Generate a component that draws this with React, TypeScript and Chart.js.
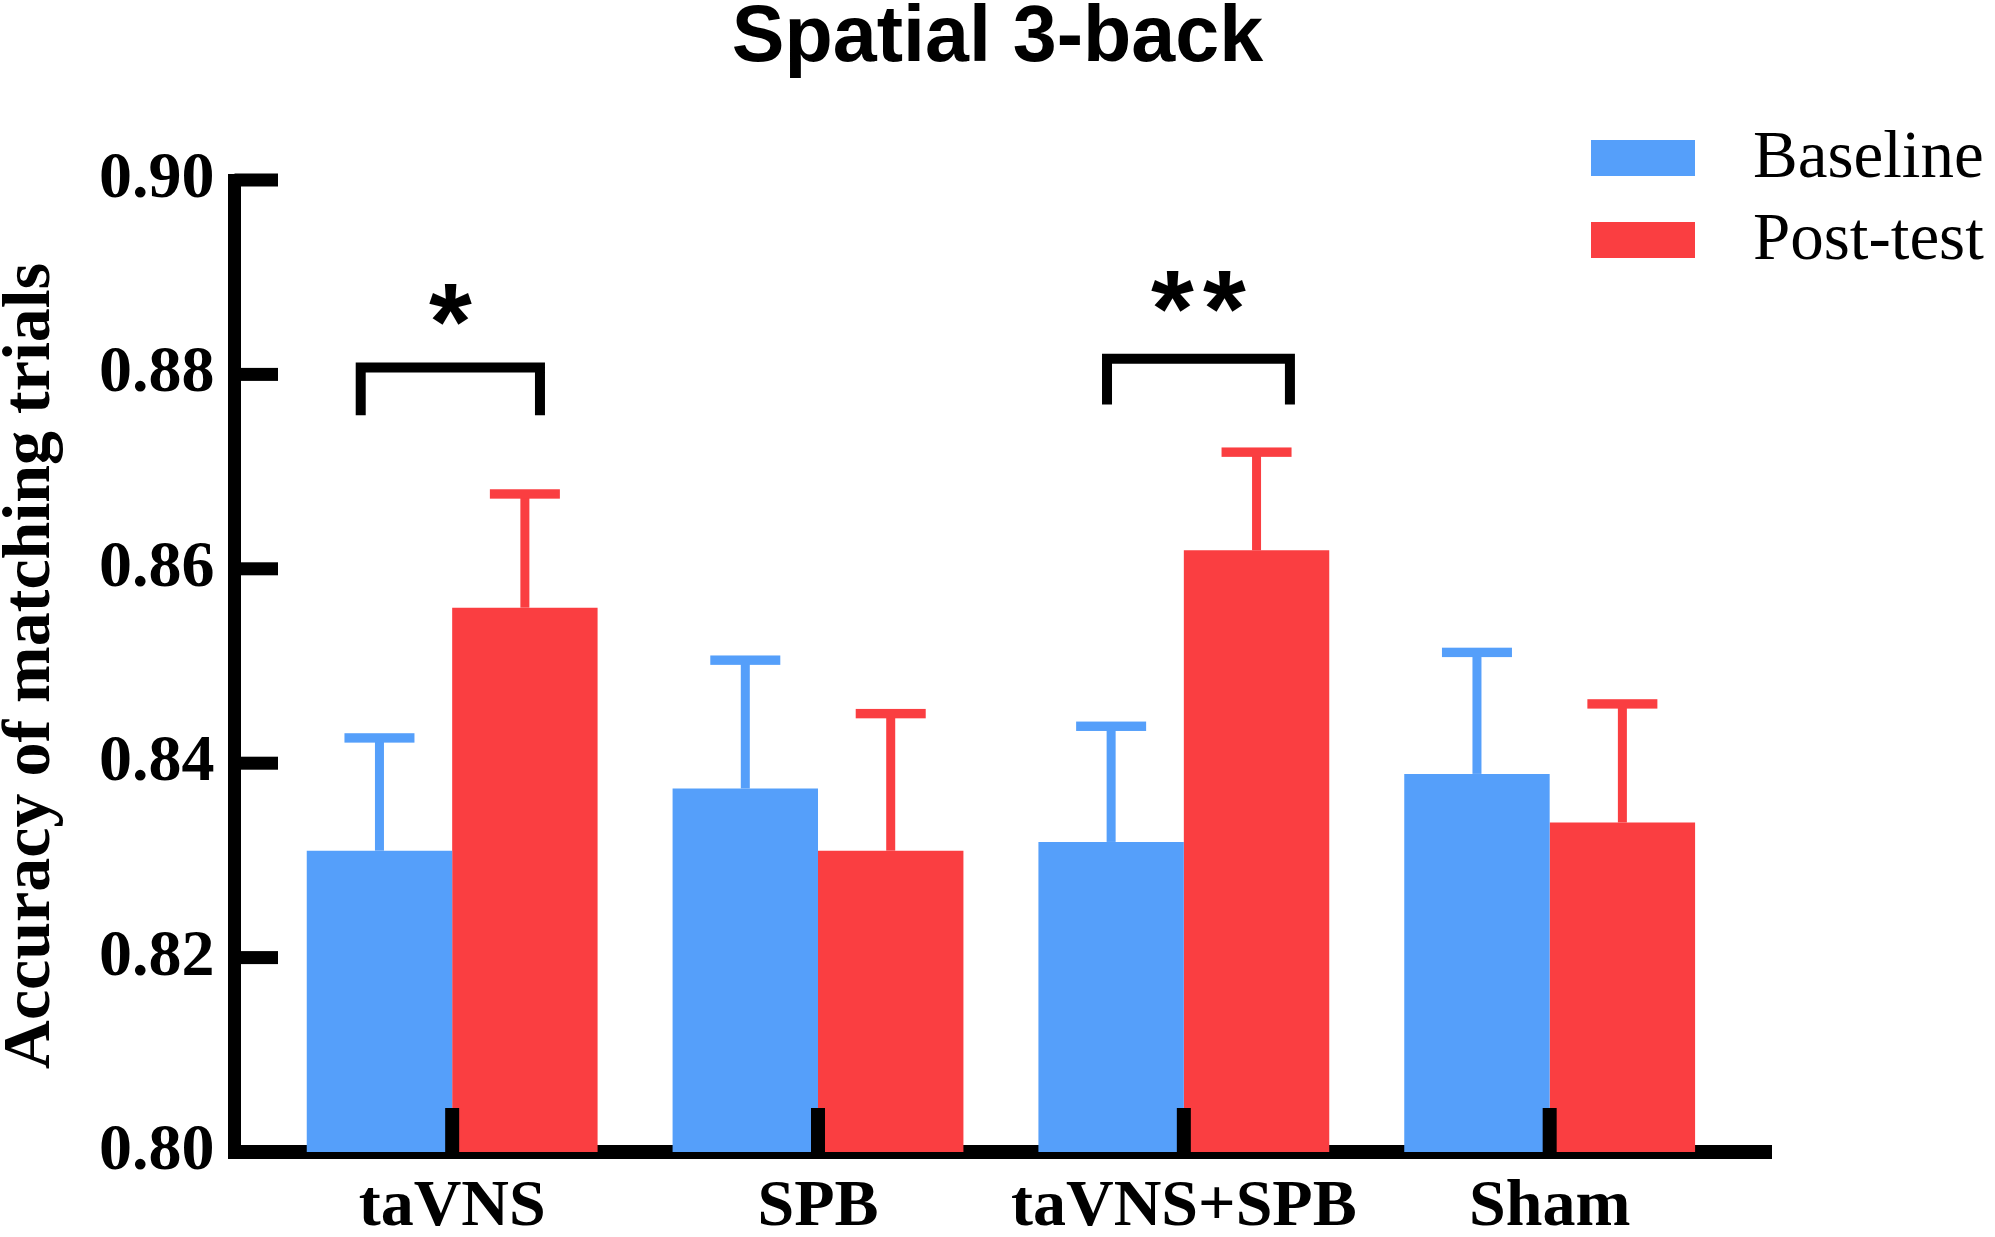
import React, { useEffect, useRef } from 'react';
import { Chart, registerables } from 'chart.js';

Chart.register(...registerables);

// ---- data ----
const categories = ['taVNS', 'SPB', 'taVNS+SPB', 'Sham'];
const seriesLabels = ['Baseline', 'Post-test'];
const seriesColors = ['#559FFA', '#FA3E41'];
const baselineMeans = [0.831, 0.8374, 0.8319, 0.8389];
const baselineErrors = [0.0116, 0.0132, 0.0119, 0.0125];
const postMeans = [0.856, 0.831, 0.8619, 0.8339];
const postErrors = [0.0117, 0.0141, 0.0101, 0.0122];
const yTickValues = [0.8, 0.82, 0.84, 0.86, 0.88, 0.9];

// significance brackets (x in category units, y in data units)
const sigLabels = ['*', '**'];
const sigStart = [-0.25, 1.79];
const sigEnd = [0.24, 2.29];
const sigTop = [0.8807, 0.8816];
const sigLeg = [0.8758, 0.8769];
const sigStarY = [0.8872, 0.8885];

const SERIF = '"Liberation Serif", "Times New Roman", serif';
const SANS = '"Liberation Sans", Arial, sans-serif';

const errorBarPlugin = {
  id: 'errorBars',
  afterDatasetsDraw(chart: any) {
    const ctx = chart.ctx;
    const yScale = chart.scales.y;
    chart.data.datasets.forEach((ds: any, d: number) => {
      const meta = chart.getDatasetMeta(d);
      meta.data.forEach((bar: any, i: number) => {
        const mean = ds.data[i].y;
        const err = ds.errors[i];
        const yTop = yScale.getPixelForValue(mean + err);
        ctx.save();
        ctx.fillStyle = ds.backgroundColor;
        ctx.fillRect(bar.x - 4.5, yTop, 9, bar.y - yTop);
        ctx.fillRect(bar.x - 35, yTop - 4.7, 70, 9.4);
        ctx.restore();
      });
    });
  },
};

const innerTicksPlugin = {
  id: 'innerTicks',
  afterDraw(chart: any) {
    const ctx = chart.ctx;
    const { left, bottom } = chart.chartArea;
    const y = chart.scales.y;
    const x = chart.scales.x;
    ctx.save();
    ctx.fillStyle = '#000';
    y.ticks.forEach((t: any) => {
      const py = y.getPixelForValue(t.value);
      ctx.fillRect(left, py - 6.5, 43.5, 13);
    });
    x.ticks.forEach((t: any) => {
      const px = x.getPixelForValue(t.value);
      ctx.fillRect(px - 7, bottom - 44, 14, 44);
    });
    ctx.restore();
  },
};

const significancePlugin = {
  id: 'significance',
  afterDraw(chart: any) {
    const ctx = chart.ctx;
    const x = chart.scales.x;
    const y = chart.scales.y;
    ctx.save();
    ctx.strokeStyle = '#000';
    ctx.fillStyle = '#000';
    ctx.lineWidth = 10;
    ctx.lineJoin = 'miter';
    ctx.lineCap = 'butt';
    sigLabels.forEach((label, k) => {
      const x1 = x.getPixelForValue(sigStart[k]);
      const x2 = x.getPixelForValue(sigEnd[k]);
      const yt = y.getPixelForValue(sigTop[k]);
      const yl = y.getPixelForValue(sigLeg[k]);
      ctx.beginPath();
      ctx.moveTo(x1, yl);
      ctx.lineTo(x1, yt);
      ctx.lineTo(x2, yt);
      ctx.lineTo(x2, yl);
      ctx.stroke();
      // stars
      ctx.font = `bold 110px ${SANS}`;
      ctx.textAlign = 'center';
      ctx.textBaseline = 'alphabetic';
      const m = ctx.measureText('*');
      const cy = y.getPixelForValue(sigStarY[k]);
      const base = cy + (m.actualBoundingBoxAscent - m.actualBoundingBoxDescent) / 2;
      const cx = (x1 + x2) / 2;
      const n = label.length;
      for (let c = 0; c < n; c++) {
        ctx.fillText(label[c], cx + (c - (n - 1) / 2) * 52, base);
      }
    });
    ctx.restore();
  },
};

const legendPlugin = {
  id: 'customLegend',
  afterDraw(chart: any) {
    const ctx = chart.ctx;
    ctx.save();
    chart.data.datasets.forEach((ds: any, d: number) => {
      const top = 140 + d * 82;
      ctx.fillStyle = ds.backgroundColor;
      ctx.fillRect(1591, top, 104, 36);
      ctx.fillStyle = '#000';
      ctx.font = `67px ${SERIF}`;
      ctx.textAlign = 'left';
      ctx.textBaseline = 'middle';
      ctx.fillText(ds.label, 1753, top + 19);
    });
    ctx.restore();
  },
};

export default function App() {
  const canvasRef = useRef<HTMLCanvasElement | null>(null);

  useEffect(() => {
    if (!canvasRef.current) return;
    const chart = new Chart(canvasRef.current, {
      type: 'bar',
      data: {
        datasets: [
          {
            label: seriesLabels[0],
            data: baselineMeans.map((v, i) => ({ x: i, y: v })),
            backgroundColor: seriesColors[0],
            borderWidth: 0,
            errors: baselineErrors,
          } as any,
          {
            label: seriesLabels[1],
            data: postMeans.map((v, i) => ({ x: i, y: v })),
            backgroundColor: seriesColors[1],
            borderWidth: 0,
            errors: postErrors,
          } as any,
        ],
      },
      options: {
        animation: false,
        responsive: false,
        devicePixelRatio: 1,
        categoryPercentage: 0.795,
        barPercentage: 1.0,
        layout: { padding: 0 },
        plugins: {
          legend: { display: false },
          tooltip: { enabled: false },
          title: {
            display: true,
            text: 'Spatial 3-back',
            color: '#000',
            font: { family: SANS, size: 79, weight: 'bold', lineHeight: 1.0 },
            padding: { top: 0, bottom: 101 },
          },
        },
        scales: {
          x: {
            type: 'linear',
            min: -0.595,
            max: 3.605,
            offset: false,
            z: 1,
            grid: { display: false, drawTicks: false },
            border: { display: true, color: '#000', width: 14 },
            afterBuildTicks: (s: any) => {
              s.ticks = categories.map((_, i) => ({ value: i }));
            },
            afterFit: (s: any) => {
              s.height = 85;
            },
            ticks: {
              autoSkip: false,
              maxRotation: 0,
              color: '#000',
              padding: 16,
              font: { family: SERIF, size: 66, weight: 'bold' },
              callback: (v: any) => categories[v] ?? '',
            },
          },
          y: {
            type: 'linear',
            min: 0.8,
            max: 0.9,
            beginAtZero: false,
            z: 1,
            grid: { display: false, drawTicks: false },
            border: { display: true, color: '#000', width: 13 },
            afterBuildTicks: (s: any) => {
              s.ticks = yTickValues.map((v) => ({ value: v }));
            },
            afterFit: (s: any) => {
              s.width = 234.5;
            },
            ticks: {
              color: '#000',
              padding: 20,
              font: { family: SERIF, size: 66, weight: 'bold' },
              callback: (v: any) => Number(v).toFixed(2),
            },
            title: {
              display: true,
              text: 'Accuracy of matching trials',
              color: '#000',
              font: { family: SERIF, size: 68, weight: 'bold', lineHeight: 0.92 },
              padding: { top: 0, bottom: 0 },
            },
          },
          // empty right-hand spacer axis: leaves room on the right for the legend
          yRight: {
            type: 'linear',
            position: 'right',
            min: 0,
            max: 1,
            display: true,
            grid: { display: false, drawTicks: false },
            border: { display: false },
            ticks: { display: false },
            afterFit: (s: any) => {
              s.width = 224;
            },
          },
        },
      } as any,
      plugins: [errorBarPlugin, innerTicksPlugin, significancePlugin, legendPlugin],
    });
    return () => chart.destroy();
  }, []);

  return (
    <div style={{ position: 'fixed', left: 0, top: 0, width: 1995, height: 1237, background: '#fff' }}>
      <canvas ref={canvasRef} width={1995} height={1237} style={{ width: 1995, height: 1237, display: 'block' }} />
    </div>
  );
}
